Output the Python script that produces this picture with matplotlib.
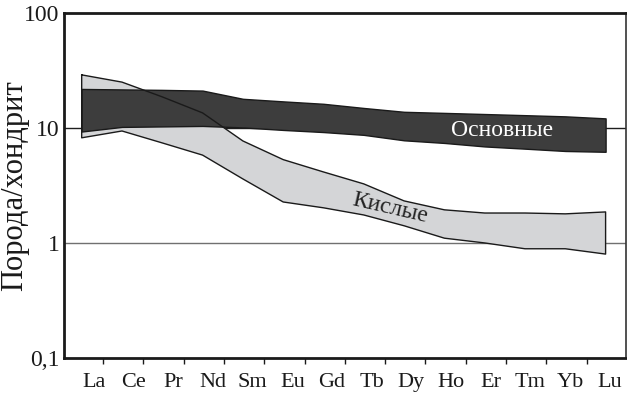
import numpy as np
import matplotlib
matplotlib.use("Agg")
import matplotlib.pyplot as plt

# REE, chondrite-normalised ranges
elements = ["La", "Ce", "Pr", "Nd", "Sm", "Eu", "Gd", "Tb", "Dy", "Ho", "Er", "Tm", "Yb", "Lu"]

felsic_hi = [28.9, 25.0, 18.6, 13.5, 7.7, 5.3, 4.14, 3.26, 2.32, 1.94, 1.82, 1.82, 1.79, 1.86]
felsic_lo = [8.2, 9.4, 7.4, 5.8, 3.6, 2.27, 2.02, 1.75, 1.41, 1.10, 1.00, 0.89, 0.89, 0.80]

mafic_hi = [21.8, 21.6, 21.4, 21.1, 17.9, 17.0, 16.2, 14.9, 13.8, 13.5, 13.2, 12.9, 12.6, 12.1]
mafic_lo = [9.3, 10.2, 10.3, 10.4, 10.1, 9.6, 9.2, 8.7, 7.8, 7.4, 6.9, 6.6, 6.3, 6.2]

y_ticks = [0.1, 1, 10, 100]
y_ticklabels = ["0,1", "1", "10", "100"]

plt.rcParams["font.family"] = "serif"
plt.rcParams["font.serif"] = ["Liberation Serif", "DejaVu Serif"]

x = np.arange(len(elements))

fig = plt.figure(figsize=(6.27, 3.94), dpi=100)
ax = fig.add_axes([0.102, 0.0914, 0.896, 0.876])

ax.axhline(10, color="#1e1e1e", lw=1.0, zorder=1)
ax.axhline(1, color="#707070", lw=1.0, zorder=1)

ax.fill_between(x, felsic_lo, felsic_hi, facecolor="#d4d5d7", edgecolor="none", zorder=2)
ax.fill_between(x, mafic_lo, mafic_hi, facecolor="#3d3d3d", edgecolor="#1a1a1a",
                lw=1.0, zorder=3)
# outline of the felsic band drawn over the dark one
ax.plot(np.r_[x, x[::-1], x[:1]], np.r_[felsic_hi, felsic_lo[::-1], felsic_hi[:1]],
        color="#1a1a1a", lw=1.0, zorder=4)

ax.text(10.43, 9.4, "Основные", color="white", fontsize=17, ha="center", va="center", zorder=5)
ax.text(7.65, 2.0, "Кислые", color="#222222", fontsize=17, ha="center", va="center",
        rotation=-13, zorder=5)

ax.set_yscale("log")
ax.set_ylim(0.1, 100)
ax.set_xlim(-0.44, 13.5)

ax.set_yticks(y_ticks)
ax.set_yticklabels(y_ticklabels)
ax.yaxis.set_minor_locator(matplotlib.ticker.NullLocator())
ax.tick_params(axis="y", length=0, pad=3, labelsize=17, labelcolor="#1a1a1a")

# labels sit slightly right of the band vertices, tick marks further right
ax.set_xticks(x * 0.985 + 0.3)
ax.set_xticklabels(elements)
ax.set_xticks(np.arange(13) + 0.53, minor=True)
ax.tick_params(axis="x", which="major", length=0, pad=11, labelsize=16, labelcolor="#1a1a1a")
ax.tick_params(axis="x", which="minor", length=4, width=1, color="#1a1a1a", direction="out")

for side in ["left", "bottom", "top"]:
    ax.spines[side].set_linewidth(2.0)
    ax.spines[side].set_color("#1a1a1a")
ax.spines["right"].set_linewidth(1.2)
ax.spines["right"].set_color("#333333")

ax.set_ylabel("Порода/хондрит", fontsize=22, color="#1a1a1a")
ax.yaxis.set_label_coords(-0.062, 0.5)

fig.savefig("out.png", dpi=100)
